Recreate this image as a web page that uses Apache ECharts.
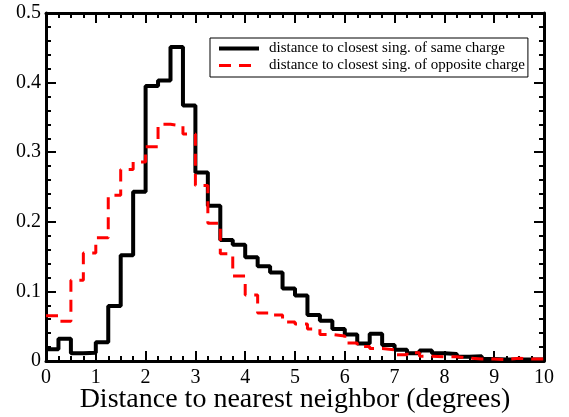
<!DOCTYPE html>
<html>
<head>
<meta charset="utf-8">
<script src="https://cdn.jsdelivr.net/npm/echarts@6/dist/echarts.min.js"></script>
<style>
  html, body { margin: 0; padding: 0; background: #fff; }
  #chart { width: 569px; height: 417px; }
</style>
</head>
<body>
<div id="chart"></div>
<script>
// histogram bins: 0..10 degrees, width 0.25
const binWidth = 0.25;
const sameCharge = [
  0.017, 0.032, 0.011, 0.012, 0.027, 0.079, 0.152, 0.243, 0.395, 0.403,
  0.451, 0.367, 0.271, 0.223, 0.174, 0.167, 0.149, 0.136, 0.127, 0.104,
  0.094, 0.066, 0.058, 0.046, 0.038, 0.025, 0.039, 0.023, 0.016, 0.011,
  0.015, 0.011, 0.010, 0.006, 0.007, 0.003, 0.002, 0.002, 0.002, 0.002
];
const oppositeCharge = [
  0.065, 0.057, 0.116, 0.155, 0.177, 0.238, 0.275, 0.286, 0.308, 0.340,
  0.338, 0.326, 0.252, 0.198, 0.154, 0.122, 0.095, 0.069, 0.066, 0.056,
  0.053, 0.046, 0.038, 0.036, 0.026, 0.021, 0.018, 0.016, 0.009, 0.012,
  0.007, 0.006, 0.006, 0.004, 0.003, 0.003, 0.002, 0.004, 0.003, 0.003
];
const seriesNames = [
  "distance to closest sing. of same charge",
  "distance to closest sing. of opposite charge"
];
const xTitle = "Distance to nearest neighbor (degrees)";

// left edge of each bin + closing point at the right edge
function toSteps(vals) {
  let pts = vals.map((v, i) => [i * binWidth, v]);
  pts.push([vals.length * binWidth, vals[vals.length - 1]]);
  return pts;
}

const font = "Liberation Serif";

function frameAxis(pos, isX, showLabel) {
  return {
    type: "value",
    position: pos,
    min: 0,
    max: isX ? 10 : 0.5,
    interval: isX ? 1 : 0.1,
    axisLine: { show: true, onZero: false, lineStyle: { color: "#000", width: 3 } },
    axisTick: { show: true, inside: true, length: 10, lineStyle: { color: "#000", width: 2 } },
    minorTick: { show: true, splitNumber: isX ? 4 : 5, length: 5, lineStyle: { color: "#000", width: 2 } },
    splitLine: { show: false },
    axisLabel: {
      show: showLabel,
      color: "#000",
      fontFamily: font,
      fontSize: 20,
      margin: isX ? 7 : 5
    }
  };
}

let chart = echarts.init(document.getElementById("chart"));

let xBottom = frameAxis("bottom", true, true);
xBottom.name = xTitle;
xBottom.nameLocation = "middle";
xBottom.nameGap = 25;
xBottom.nameMoveOverlap = false;
xBottom.nameTextStyle = { color: "#000", fontFamily: font, fontSize: 28 };

chart.setOption({
  animation: false,
  grid: { left: 46, right: 25, top: 13, bottom: 56, outerBoundsMode: "none", containLabel: false },
  legend: {
    orient: "vertical",
    left: 210,
    top: 38,
    padding: [3, 3, 4, 7],
    itemGap: 2,
    itemWidth: 40,
    itemHeight: 16,
    borderColor: "#000",
    borderWidth: 1,
    itemStyle: { opacity: 0 },
    textStyle: { color: "#000", fontFamily: font, fontSize: 15, padding: [0, 0, 0, 5] },
    data: [
      { name: seriesNames[0], lineStyle: { width: 4 } },
      { name: seriesNames[1], lineStyle: { width: 3 } }
    ]
  },
  xAxis: [xBottom, frameAxis("top", true, false)],
  yAxis: [frameAxis("left", false, true), frameAxis("right", false, false)],
  series: [
    {
      name: seriesNames[0],
      type: "line",
      step: "end",
      symbol: "none",
      xAxisIndex: 0,
      yAxisIndex: 0,
      lineStyle: { color: "#000", width: 4 },
      itemStyle: { color: "#000" },
      data: toSteps(sameCharge)
    },
    {
      name: seriesNames[1],
      type: "line",
      step: "end",
      symbol: "none",
      xAxisIndex: 0,
      yAxisIndex: 0,
      lineStyle: { color: "#ff0000", width: 3, type: [12, 8] },
      itemStyle: { color: "#ff0000" },
      data: toSteps(oppositeCharge)
    }
  ]
});
</script>
</body>
</html>
